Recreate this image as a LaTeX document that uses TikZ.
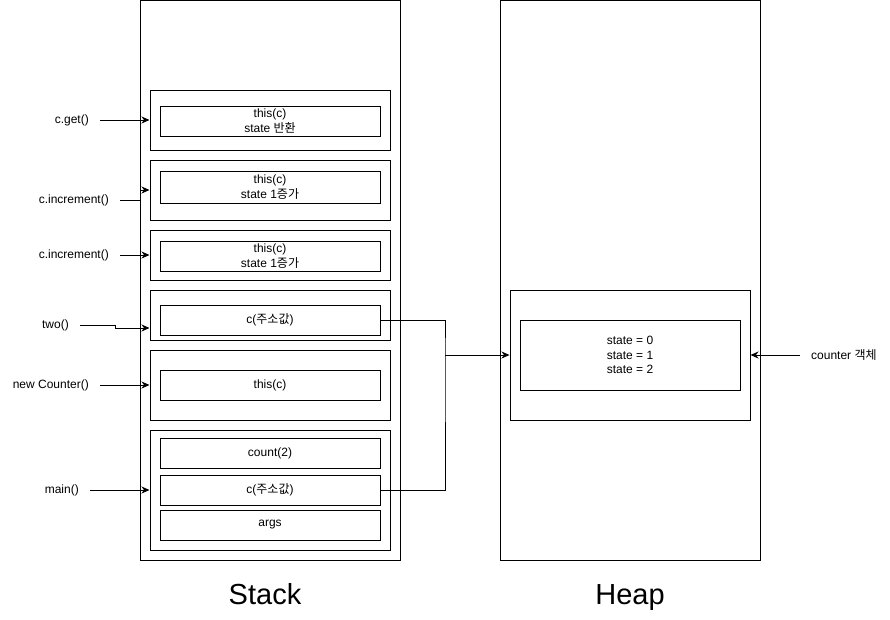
\documentclass[tikz,border=0pt]{standalone}
\usepackage{fontspec}
\setmainfont{Liberation Sans}
\newfontfamily\kr{Noto Sans CJK KR}
\usetikzlibrary{arrows.meta}

\begin{document}
\begin{tikzpicture}[x=1pt, y=-1pt,
    box/.style={draw, rectangle, line width=1pt, inner sep=0pt, align=center, font=\fontsize{12}{14.4}\selectfont},
    call/.style={font=\fontsize{12}{14.4}\selectfont, inner xsep=11pt, inner ysep=0pt},
    title/.style={font=\fontsize{29}{34}\selectfont, anchor=base},
    link/.style={line width=1pt},
    ptr/.style={line width=1pt, -{Stealth[length=8pt,width=7pt,inset=2.5pt]}}
]
    \useasboundingbox (0,0) rectangle (890,619);

    % Stack and heap areas
    \node[box, minimum width=260pt, minimum height=560pt] (stack) at (270,280) {};
    \node[box, minimum width=260pt, minimum height=560pt] (heap) at (630,280) {};

    % Stack frames
    \node[box, minimum width=240pt, minimum height=60pt] (f1) at (270,120) {};
    \node[box, minimum width=240pt, minimum height=60pt] (f2) at (270,190) {};
    \node[box, minimum width=240pt, minimum height=50pt] (f3) at (270,255) {};
    \node[box, minimum width=240pt, minimum height=50pt] (f4) at (270,315) {};
    \node[box, minimum width=240pt, minimum height=70pt] (f5) at (270,385) {};
    \node[box, minimum width=240pt, minimum height=120pt] (f6) at (270,490) {};

    % Frame contents
    \node[box, minimum width=220pt, minimum height=30pt] (get) at (270,121) {this(c)\\state {\kr 반환}};
    \node[box, minimum width=220pt, minimum height=32pt] (inc1) at (270,187) {this(c)\\state 1{\kr 증가}};
    \node[box, minimum width=220pt, minimum height=30pt] (inc2) at (270,256) {this(c)\\state 1{\kr 증가}};
    \node[box, minimum width=220pt, minimum height=30pt] (ctwo) at (270,320) {c({\kr 주소값})};
    \node[box, minimum width=220pt, minimum height=30pt] (this) at (270,385) {this(c)};
    \node[box, minimum width=220pt, minimum height=30pt] (count) at (270,453) {count(2)};
    \node[box, minimum width=220pt, minimum height=30pt] (cmain) at (270,490) {c({\kr 주소값})};
    \node[box, minimum width=220pt, minimum height=30pt] (args) at (270,525) {args};

    % Heap object
    \node[box, minimum width=240pt, minimum height=130pt] (hobj) at (630,355) {};
    \node[box, minimum width=220pt, minimum height=70pt] (state) at (630,355) {state = 0\\state = 1\\state = 2};

    % Method calls
    \node[call, anchor=east] (lget) at (100,120) {c.get()};
    \node[call, anchor=east] (linc1) at (120,200) {c.increment()};
    \node[call, anchor=east] (linc2) at (120,255) {c.increment()};
    \node[call, anchor=east] (ltwo) at (80,325) {two()};
    \node[call, anchor=east] (lnew) at (100,385) {new Counter()};
    \node[call, anchor=east] (lmain) at (90,490) {main()};
    \node[call, anchor=west] (lobj) at (800,355) {counter {\kr 객체}};

    \draw[ptr] (lget.east) -- (f1.west);
    \draw[ptr] (linc1.east) -- ++(20,0) |- (f2.west);
    \draw[ptr] (linc2.east) -- (f3.west);
    \draw[ptr] (ltwo.east) -- ++(35,0) |- ([yshift=-13pt]f4.west);
    \draw[ptr] (lnew.east) -- (f5.west);
    \draw[ptr] (lmain.east) -- (f6.west);
    \draw[ptr] (lobj.west) -- (hobj.east);

    % References to the heap
    \coordinate (join) at (445,355);
    \draw[link] (ctwo.east) -| (join) |- (cmain.east);
    \draw[ptr] (join) -- (hobj.west);

    % Titles
    \node[title] (tstack) at (265,604) {Stack};
    \node[title] (theap) at (630,604) {Heap};
\end{tikzpicture}
\end{document}
